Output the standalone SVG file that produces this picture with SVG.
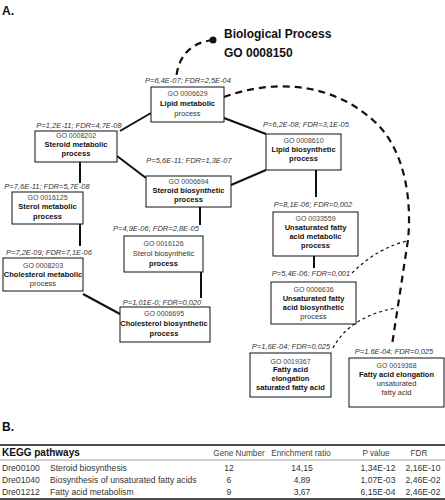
<svg xmlns="http://www.w3.org/2000/svg" width="445" height="500" viewBox="0 0 445 500">
<style>
text{font-family:"Liberation Sans",Arial,sans-serif;fill:#111}
.box{fill:#fff;stroke:#111;stroke-width:1}
.go{font-size:7px;fill:#444;text-anchor:middle}
.nm{font-size:7.5px;font-weight:bold;text-anchor:middle}
.nr{font-size:7.5px;text-anchor:middle;fill:#333}
.lb{font-size:7.5px;font-style:italic;text-anchor:middle;fill:#333}
.ln{stroke:#111;stroke-width:2;fill:none}
.dk{stroke:#111;stroke-width:2.2;fill:none;stroke-dasharray:7,5}
.dt{stroke:#111;stroke-width:1.2;fill:none;stroke-dasharray:3,3}
.th{font-size:8.2px;fill:#444}
.td{font-size:8.6px;fill:#333}
.c{text-anchor:middle}
</style>
<text x="2" y="15" style="font-size:12px;font-weight:bold">A.</text>
<text x="2" y="431" style="font-size:12px;font-weight:bold">B.</text>

<g id="connectors">
<path class="dk" d="M213,40 C195,42 178,52 176,80"/>
<circle cx="213" cy="40" r="3.5" fill="#111"/>
<path class="dk" d="M224,97 C270,80 330,80 375,122 C405,150 412,200 408,240 L392,345"/>
<path class="dt" d="M352,273 C370,255 390,245 407,241"/>
<path class="dt" d="M333,348 C345,325 370,312 397,308"/>
<line class="ln" x1="151" y1="113" x2="120" y2="131"/>
<line class="ln" x1="224" y1="118" x2="266" y2="134"/>
<line class="ln" x1="117" y1="156" x2="146" y2="178"/>
<line class="ln" x1="80" y1="162" x2="80" y2="183"/>
<line class="ln" x1="200" y1="207" x2="200" y2="225"/>
<line class="ln" x1="231" y1="185" x2="266" y2="170"/>
<line class="ln" x1="80" y1="224" x2="80" y2="246"/>
<line class="ln" x1="201" y1="272" x2="201" y2="298"/>
<line class="ln" x1="83" y1="294" x2="120" y2="314"/>
<line class="ln" x1="316" y1="170" x2="316" y2="197"/>
<line class="ln" x1="314" y1="256" x2="314" y2="268"/>
</g>

<g id="bio_process">
<text x="224" y="38" style="font-size:12px;font-weight:bold">Biological Process</text>
<text x="224" y="57" style="font-size:12px;font-weight:bold">GO 0008150</text>
</g>

<g id="lipid_metabolic">
<text class="lb" x="188" y="83">P=6,4E-07; FDR=2,5E-04</text>
<rect class="box" x="151" y="87" width="73" height="35"/>
<text class="go" x="187.5" y="96">GO 0006629</text>
<text class="nm" x="187.5" y="106">Lipid metabolic</text>
<text class="nr" x="187.5" y="116">process</text>
</g>

<g id="steroid_metabolic">
<text class="lb" x="79" y="128">P=1,2E-11; FDR=4,7E-08</text>
<rect class="box" x="35" y="131" width="82" height="31"/>
<text class="go" x="76" y="138">GO 0008202</text>
<text class="nm" x="76" y="147">Steroid metabolic</text>
<text class="nm" x="76" y="156">process</text>
</g>

<g id="steroid_biosynthetic">
<text class="lb" x="189" y="163">P=5,6E-11; FDR=1,3E-07</text>
<rect class="box" x="146" y="176" width="85" height="31"/>
<text class="go" x="188.5" y="184">GO 0006694</text>
<text class="nm" x="188.5" y="193">Steroid biosynthetic</text>
<text class="nm" x="188.5" y="202">process</text>
</g>

<g id="sterol_metabolic">
<text class="lb" x="47" y="189">P=7,6E-11; FDR=5,7E-08</text>
<rect class="box" x="12" y="192" width="71" height="32"/>
<text class="go" x="47.5" y="200">GO 0016125</text>
<text class="nm" x="47.5" y="209">Sterol metabolic</text>
<text class="nm" x="47.5" y="219">process</text>
</g>

<g id="sterol_biosynthetic">
<text class="lb" x="156" y="231">P=4,9E-06; FDR=2,8E-05</text>
<rect class="box" x="124" y="236" width="79" height="36"/>
<text class="go" x="163.5" y="246">GO 0016126</text>
<text class="nr" x="163.5" y="256">Sterol biosynthetic</text>
<text class="nm" x="163.5" y="266">process</text>
</g>

<g id="cholesterol_metabolic">
<text class="lb" x="49" y="255">P=7,2E-09; FDR=7,1E-06</text>
<rect class="box" x="3" y="258" width="80" height="33"/>
<text class="go" x="43" y="268">GO 0008203</text>
<text class="nm" x="43" y="277">Cholesterol metabolic</text>
<text class="nr" x="43" y="286">process</text>
</g>

<g id="cholesterol_biosynthetic">
<text class="lb" x="162" y="305">P=1,01E-0; FDR=0,020</text>
<rect class="box" x="120" y="307" width="90" height="35"/>
<text class="go" x="164" y="316">GO 0006695</text>
<text class="nm" x="164" y="326">Cholesterol biosynthetic</text>
<text class="nm" x="164" y="336">process</text>
</g>

<g id="lipid_biosynthetic">
<text class="lb" x="306" y="127">P=6,2E-08; FDR=3,1E-05</text>
<rect class="box" x="266" y="134" width="75" height="36"/>
<text class="go" x="303.5" y="143">GO 0008610</text>
<text class="nm" x="303.5" y="152">Lipid biosynthetic</text>
<text class="nm" x="303.5" y="161">process</text>
</g>

<g id="unsat_fa_metabolic">
<text class="lb" x="313" y="207">P=8,1E-06; FDR=0,002</text>
<rect class="box" x="273" y="212" width="85" height="44"/>
<text class="go" x="315.5" y="221">GO 0033559</text>
<text class="nm" x="315.5" y="230">Unsaturated fatty</text>
<text class="nm" x="315.5" y="239">acid metabolic</text>
<text class="nm" x="315.5" y="248">process</text>
</g>

<g id="unsat_fa_biosynthetic">
<text class="lb" x="311" y="276">P=5,4E-06; FDR=0,001</text>
<rect class="box" x="271" y="282" width="85" height="42"/>
<text class="go" x="313.5" y="292">GO 0006636</text>
<text class="nm" x="313.5" y="301">Unsaturated fatty</text>
<text class="nm" x="313.5" y="310">acid biosynthetic</text>
<text class="nr" x="313.5" y="319">process</text>
</g>

<g id="fa_elongation_saturated">
<text class="lb" x="291" y="349">P=1,6E-04; FDR=0,025</text>
<rect class="box" x="250" y="353" width="81" height="44"/>
<text class="go" x="290.5" y="364">GO 0019367</text>
<text class="nm" x="290.5" y="372">Fatty acid</text>
<text class="nm" x="290.5" y="381">elongation</text>
<text class="nm" x="290.5" y="390">saturated fatty acid</text>
</g>

<g id="fa_elongation_unsaturated">
<text class="lb" x="394" y="354">P=1.6E-04; FDR=0,025</text>
<rect class="box" x="349" y="358" width="95" height="49"/>
<text class="go" x="396.5" y="368">GO 0019368</text>
<text class="nm" x="396.5" y="377">Fatty acid elongation</text>
<text class="nr" x="396.5" y="386">unsaturated</text>
<text class="nr" x="396.5" y="395">fatty acid</text>
</g>

<g id="kegg_table">
<line x1="0" y1="445" x2="445" y2="445" stroke="#111" stroke-width="1.5"/>
<line x1="0" y1="460" x2="445" y2="460" stroke="#888" stroke-width="0.8"/>
<line x1="0" y1="499" x2="445" y2="499" stroke="#111" stroke-width="1.5"/>
<text x="2" y="456" style="font-size:10px;font-weight:bold">KEGG pathways</text>
<text class="th c" x="239" y="456">Gene Number</text>
<text class="th c" x="301" y="456">Enrichment ratio</text>
<text class="th c" x="376" y="456">P value</text>
<text class="th c" x="419" y="456">FDR</text>
<text class="td" x="2" y="471">Dre00100</text>
<text class="td" x="50" y="471">Steroid biosynthesis</text>
<text class="td c" x="229" y="471">12</text>
<text class="td c" x="302" y="471">14,15</text>
<text class="td c" x="378" y="471">1,34E-12</text>
<text class="td c" x="423" y="471">2,16E-10</text>
<text class="td" x="2" y="483">Dre01040</text>
<text class="td" x="50" y="483">Biosynthesis of unsaturated fatty acids</text>
<text class="td c" x="229" y="483">6</text>
<text class="td c" x="302" y="483">4,89</text>
<text class="td c" x="378" y="483">1,07E-03</text>
<text class="td c" x="423" y="483">2,46E-02</text>
<text class="td" x="2" y="495">Dre01212</text>
<text class="td" x="50" y="495">Fatty acid metabolism</text>
<text class="td c" x="229" y="495">9</text>
<text class="td c" x="302" y="495">3,67</text>
<text class="td c" x="378" y="495">6,15E-04</text>
<text class="td c" x="423" y="495">2,46E-02</text>
</g>
</svg>
